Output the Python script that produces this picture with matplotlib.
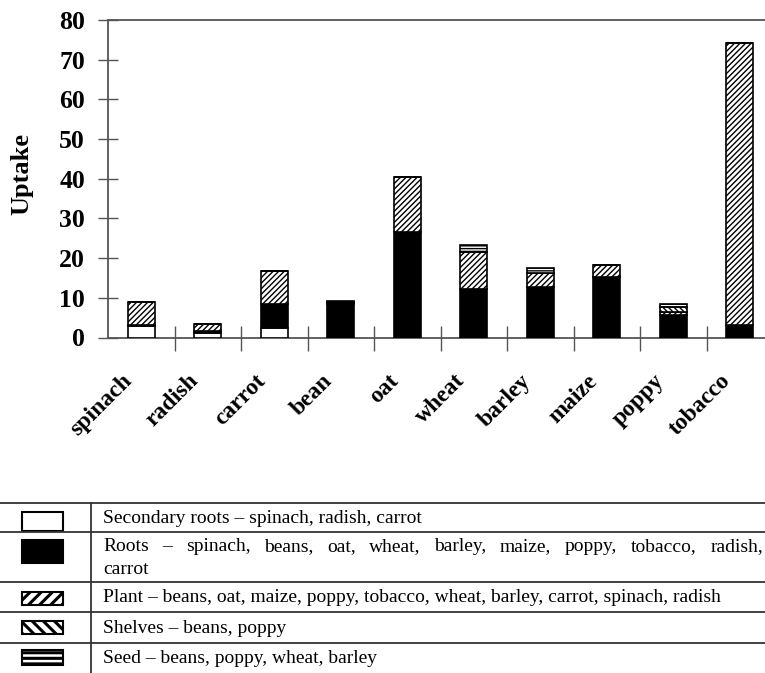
import matplotlib
matplotlib.use('Agg')
import matplotlib.pyplot as plt
from matplotlib.patches import Rectangle
from matplotlib.lines import Line2D
from matplotlib.transforms import ScaledTranslation
import numpy as np

plt.rcParams['font.family'] = ['Liberation Serif', 'DejaVu Serif']
plt.rcParams['hatch.linewidth'] = 1.0

# ── Data ─────────────────────────────────────────────────────────────
crops = ['spinach', 'radish', 'carrot', 'bean', 'oat',
         'wheat', 'barley', 'maize', 'poppy', 'tobacco']
secondary_roots = [2.8, 1.2, 2.4, 0.0, 0.0, 0.0, 0.0, 0.0, 0.0, 0.0]
roots           = [0.4, 0.5, 6.1, 8.4, 26.6, 12.2, 12.7, 15.3, 5.6, 3.1]
plant           = [5.8, 1.8, 8.3, 0.3, 13.8, 9.4, 3.5, 3.0, 0.8, 71.0]
shelves         = [0.0, 0.0, 0.0, 0.3, 0.0, 0.0, 0.0, 0.0, 1.2, 0.0]
seed            = [0.0, 0.0, 0.0, 0.2, 0.0, 1.7, 1.3, 0.0, 0.9, 0.0]

y_ticks = [0, 10, 20, 30, 40, 50, 60, 70, 80]

legend_rows = [
    'Secondary roots \u2013 spinach, radish, carrot',
    'Roots \u2013 spinach, beans, oat, wheat, barley, maize, poppy, tobacco, radish,',
    'carrot',
    'Plant \u2013 beans, oat, maize, poppy, tobacco, wheat, barley, carrot, spinach, radish',
    'Shelves \u2013 beans, poppy',
    'Seed \u2013 beans, poppy, wheat, barley',
]

W, H = 765, 673
fig = plt.figure(figsize=(W / 100, H / 100), dpi=100)
ax = fig.add_axes([108 / W, 1 - 337.5 / H, 665 / W, 317.5 / H])

x = np.arange(len(crops))
bw = 0.41
layers = [
    (secondary_roots, dict(facecolor='white')),
    (roots,           dict(facecolor='black')),
    (plant,           dict(facecolor='white', hatch='//////')),
    (shelves,         dict(facecolor='white', hatch='\\\\\\\\\\\\')),
    (seed,            dict(facecolor='white', hatch='------')),
]
bottom = np.zeros(len(crops))
for vals, style in layers:
    vals = np.array(vals)
    ax.bar(x, vals, bw, bottom=bottom, edgecolor='black', linewidth=1.2,
           zorder=3, **style)
    bottom += vals

ax.set_xlim(-0.5, len(crops) - 0.5)
ax.set_ylim(0, 80)
ax.set_yticks(y_ticks)
ax.set_yticklabels([str(v) for v in y_ticks], fontsize=18.5, fontweight='bold')
ax.tick_params(axis='y', direction='inout', length=15, width=1, color='#555555', pad=9)

ax.set_xticks(x)
ax.set_xticklabels(crops, rotation=45, ha='right', va='center',
                   rotation_mode='anchor', fontsize=17, fontweight='bold')
ax.tick_params(axis='x', which='major', length=0, pad=29)
shift = ScaledTranslation(-0.12, 0, fig.dpi_scale_trans)
for lbl in ax.get_xticklabels():
    lbl.set_transform(lbl.get_transform() + shift)
ax.set_xticks(np.arange(0.5, len(crops) - 0.5, 1), minor=True)
ax.tick_params(axis='x', which='minor', direction='inout', length=18, width=1,
               color='#555555')

for s in ['left', 'bottom', 'top']:
    ax.spines[s].set_color('#555555')
    ax.spines[s].set_linewidth(1.3)
ax.spines['right'].set_visible(False)

# ── Legend table below the chart ──────────────────────────────────────
def fx(px):
    return px / W

def fy(py):
    return 1 - py / H

fig.text(fx(22), fy(174), 'Uptake', rotation=90, ha='center', va='center',
         fontsize=19, fontweight='bold')

for yy in [503, 532, 582, 612, 643]:
    fig.add_artist(Line2D([0, 1], [fy(yy), fy(yy)], color='#333333', lw=1.3,
                          transform=fig.transFigure))
fig.add_artist(Line2D([fx(91), fx(91)], [fy(503), 0], color='#333333', lw=1.3,
                      transform=fig.transFigure))

sym_styles = [
    dict(facecolor='white'),
    dict(facecolor='black'),
    dict(facecolor='white', hatch='///'),
    dict(facecolor='white', hatch='\\\\\\'),
    dict(facecolor='white', hatch='---'),
]
# (top, bottom) of each legend swatch in pixels
sym_rows = [(512, 531), (540, 563), (592, 605), (621, 634), (650, 665)]
for (top, bot), style in zip(sym_rows, sym_styles):
    r = Rectangle((fx(22), fy(bot)), fx(41), (bot - top) / H, transform=fig.transFigure,
                  edgecolor='black', linewidth=1.5, **style)
    if style.get('hatch') and hasattr(r, 'set_hatch_linewidth'):
        r.set_hatch_linewidth(2.2)
    fig.add_artist(r)

text_kw = dict(fontsize=14, va='baseline', ha='left')
renderer = fig.canvas.get_renderer()


def justified(line, y_px, x0=103, x1=763):
    words = line.split(' ')
    items = [fig.text(0, fy(y_px), w, **text_kw) for w in words]
    widths = [t.get_window_extent(renderer).width for t in items]
    gap = (x1 - x0 - sum(widths)) / (len(words) - 1)
    pos = x0
    for t, w in zip(items, widths):
        t.set_x(fx(pos))
        pos += w + gap


# baselines of the legend text lines, pixels from the top
text_base = [523, 551, 574, 602, 633, 663]
for i, (line, yy) in enumerate(zip(legend_rows, text_base)):
    if i == 1:
        justified(line, yy)
    else:
        fig.text(fx(103), fy(yy), line, **text_kw)

fig.savefig('out.png', dpi=100)
